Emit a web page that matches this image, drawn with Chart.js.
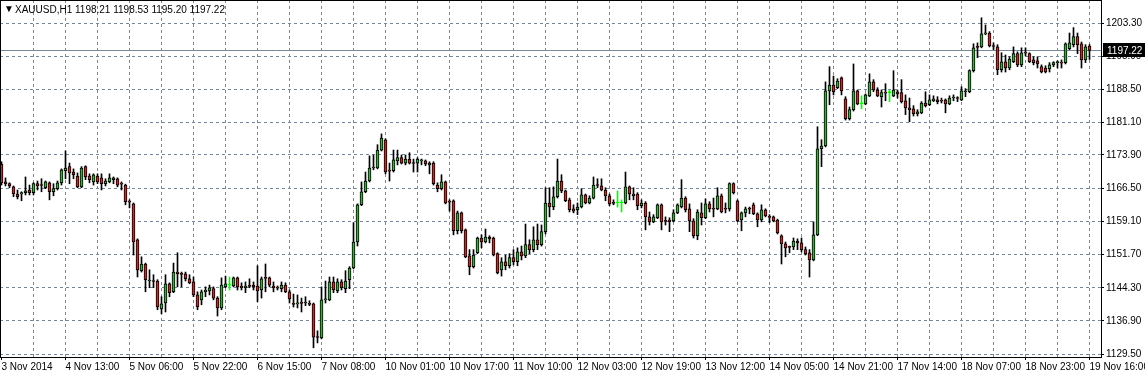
<!DOCTYPE html>
<html>
<head>
<meta charset="utf-8">
<script src="https://cdn.jsdelivr.net/npm/chart.js@4.4.1/dist/chart.umd.min.js"></script>
<style>
body{margin:0;background:#fff}
canvas{display:block}
</style>
</head>
<body>
<canvas id="chart" width="1145" height="377"></canvas>
<script>
// XAUUSD H1, one entry per bar (oldest first)
const symbol = "XAUUSD,H1"

const opens = [
1171.9,1167.9,1167.5,1166.8,1165.2,1165.2,1165.5,1166.1,1165.5,1167.5,
1167.2,1166.6,1167.7,1165.7,1166.4,1167.7,1170.4,1171.3,1170.1,1169.2,
1166.8,1171.3,1169.2,1167.9,1169.2,1168.8,1167.5,1167.9,1168.4,1168.6,
1167.5,1167.2,1163.5,1163.0,1155.0,1148.1,1149.6,1145.8,1145.8,1145.8,
1139.6,1140.9,1145.2,1143.4,1147.8,1147.4,1147.4,1146.3,1145.6,1142.7,
1141.6,1143.4,1143.6,1144.1,1142.0,1139.8,1144.5,1144.9,1144.7,1146.5,
1144.7,1144.3,1144.7,1144.9,1144.7,1143.8,1146.5,1146.5,1144.7,1144.3,
1144.1,1144.9,1143.4,1140.7,1140.7,1140.9,1140.9,1140.7,1140.7,1133.3,
1133.1,1141.6,1141.6,1145.6,1143.6,1145.6,1144.1,1146.1,1148.7,1154.5,
1162.8,1165.7,1168.1,1171.0,1171.0,1175.0,1177.3,1170.4,1170.4,1172.6,
1173.3,1172.1,1173.0,1172.1,1172.1,1172.6,1172.6,1171.7,1172.1,1167.2,
1166.4,1167.9,1163.5,1163.7,1157.0,1161.0,1157.2,1151.4,1149.0,1152.1,
1155.4,1154.5,1155.6,1155.4,1151.9,1148.3,1150.1,1149.2,1151.0,1150.1,
1152.3,1151.4,1153.9,1152.8,1155.0,1153.9,1156.8,1163.2,1162.3,1164.6,
1168.1,1165.9,1163.9,1161.9,1161.7,1162.3,1165.0,1163.2,1164.3,1167.2,
1167.0,1166.1,1164.8,1163.2,1163.2,1163.2,1163.2,1166.8,1165.2,1165.2,
1162.6,1163.2,1160.1,1159.0,1159.9,1162.8,1159.2,1159.4,1159.2,1161.0,
1162.3,1164.3,1161.9,1159.2,1155.9,1161.0,1159.9,1163.0,1161.9,1161.9,
1164.8,1161.9,1161.9,1167.5,1163.7,1159.4,1161.0,1161.9,1162.8,1160.8,
1159.4,1161.7,1160.1,1160.1,1159.4,1155.9,1154.1,1153.4,1153.4,1154.7,
1154.3,1152.8,1152.1,1150.5,1156.1,1175.3,1175.9,1188.2,1189.5,1188.9,
1191.1,1186.4,1182.0,1184.0,1188.2,1185.3,1185.3,1187.1,1190.2,1188.4,
1186.9,1187.8,1187.8,1187.1,1188.0,1187.8,1186.0,1184.4,1184.2,1183.1,
1183.3,1185.5,1185.1,1186.0,1186.2,1186.0,1186.2,1185.3,1186.6,1186.6,
1186.2,1188.0,1188.0,1192.7,1198.0,1198.0,1200.9,1201.1,1198.2,1198.0,
1192.9,1194.7,1193.3,1194.7,1196.5,1194.0,1196.7,1196.5,1195.1,1194.9,
1193.6,1193.3,1193.1,1194.0,1194.5,1194.5,1194.5,1197.6,1198.5,1200.3,
1198.7,1195.1,1198.21
]
const highs = [
1172.4,1168.8,1167.7,1167.0,1166.1,1165.7,1169.0,1167.2,1167.7,1168.1,
1168.6,1168.1,1167.9,1167.5,1168.1,1170.8,1174.8,1172.1,1170.8,1169.9,
1171.3,1171.5,1169.7,1169.7,1169.7,1169.7,1168.6,1169.7,1169.0,1168.8,
1167.9,1167.4,1163.9,1163.2,1155.2,1151.2,1149.8,1148.3,1147.2,1146.1,
1142.3,1147.2,1145.4,1149.8,1152.1,1147.8,1147.8,1147.2,1146.7,1143.4,
1143.8,1144.5,1144.9,1144.5,1142.3,1146.5,1146.9,1146.7,1146.7,1146.7,
1145.4,1145.6,1146.3,1145.6,1149.2,1146.7,1149.6,1146.7,1145.6,1144.7,
1145.6,1145.4,1143.8,1142.9,1142.7,1142.0,1142.3,1141.4,1140.9,1134.7,
1144.5,1145.8,1146.7,1146.7,1146.3,1146.1,1148.1,1149.0,1158.8,1163.0,
1167.9,1170.1,1173.7,1173.9,1176.2,1178.6,1177.5,1172.1,1175.0,1175.0,
1173.9,1173.9,1174.4,1173.0,1173.3,1173.0,1172.8,1172.4,1172.4,1167.7,
1169.5,1168.1,1163.9,1163.9,1161.4,1161.2,1157.4,1152.8,1152.8,1155.6,
1156.1,1157.4,1155.9,1155.6,1152.1,1151.0,1151.6,1151.9,1152.8,1153.2,
1153.6,1158.5,1155.0,1157.9,1158.5,1158.3,1166.6,1166.6,1166.8,1173.0,
1169.5,1166.1,1164.3,1162.8,1163.2,1166.4,1165.2,1164.8,1169.0,1168.6,
1168.6,1166.6,1165.2,1163.9,1165.9,1163.9,1170.1,1167.0,1166.6,1165.5,
1163.9,1163.5,1161.2,1160.6,1163.0,1163.0,1160.1,1159.9,1161.7,1163.0,
1168.4,1164.6,1163.0,1159.7,1161.7,1163.2,1164.1,1163.5,1164.3,1166.6,
1165.2,1163.2,1167.7,1167.7,1163.9,1161.2,1162.3,1162.3,1163.2,1161.0,
1162.8,1161.9,1160.6,1160.3,1159.6,1156.1,1154.5,1153.6,1155.4,1155.2,
1155.4,1153.4,1152.8,1159.0,1180.2,1177.3,1190.2,1193.6,1191.5,1190.9,
1191.3,1186.9,1184.6,1194.2,1188.4,1187.1,1187.5,1192.0,1190.7,1188.9,
1188.4,1189.8,1188.4,1192.7,1188.4,1190.7,1187.3,1186.6,1184.9,1184.0,
1185.8,1188.0,1187.3,1187.1,1186.9,1186.6,1186.4,1187.1,1187.3,1186.9,
1189.1,1188.7,1192.9,1198.7,1198.9,1204.5,1202.9,1201.4,1198.9,1198.5,
1196.7,1196.2,1195.8,1198.0,1196.9,1197.8,1197.8,1196.7,1195.8,1195.8,
1194.0,1193.8,1194.5,1194.7,1194.9,1195.1,1198.9,1201.1,1202.3,1201.1,
1199.1,1198.5,1198.53
]
const lows = [
1167.2,1167.0,1166.6,1164.6,1164.1,1163.7,1165.0,1165.0,1165.0,1166.1,
1165.7,1166.4,1163.9,1164.8,1166.1,1167.2,1168.6,1167.5,1168.6,1166.6,
1166.6,1168.4,1167.7,1167.2,1167.5,1166.1,1167.0,1167.7,1167.5,1166.8,
1166.1,1162.8,1162.1,1151.6,1146.7,1147.8,1143.4,1144.3,1144.3,1139.4,
1138.5,1138.9,1142.3,1143.2,1144.5,1144.5,1145.8,1145.2,1142.3,1139.4,
1140.5,1142.3,1142.7,1141.6,1138.0,1139.4,1144.3,1143.8,1144.5,1143.8,
1143.8,1143.2,1144.3,1143.8,1141.2,1142.0,1143.4,1144.5,1143.4,1143.8,
1143.4,1143.2,1140.9,1140.0,1139.8,1138.9,1140.3,1140.3,1130.9,1132.0,
1132.9,1140.9,1141.4,1143.2,1143.2,1143.8,1143.2,1144.1,1148.5,1153.6,
1162.6,1165.5,1167.9,1170.6,1170.8,1174.8,1169.7,1168.1,1170.1,1171.7,
1171.9,1171.7,1171.9,1170.1,1170.1,1171.7,1171.5,1169.7,1167.2,1165.7,
1166.1,1163.0,1161.4,1156.1,1156.3,1156.5,1151.0,1147.2,1148.7,1151.9,
1153.2,1154.3,1154.3,1151.4,1147.4,1146.9,1148.3,1148.7,1149.4,1149.2,
1150.5,1151.0,1151.9,1152.3,1152.8,1153.6,1156.3,1160.1,1161.7,1164.3,
1165.5,1163.5,1161.2,1161.0,1160.6,1162.1,1163.0,1163.0,1164.1,1166.6,
1165.9,1163.7,1162.6,1162.8,1162.3,1161.2,1163.0,1163.9,1163.9,1161.7,
1162.1,1157.2,1158.3,1158.8,1159.7,1157.2,1158.3,1156.8,1159.0,1160.8,
1162.1,1161.2,1156.8,1155.4,1155.0,1158.3,1159.7,1161.2,1160.1,1161.7,
1161.0,1161.0,1161.4,1165.2,1159.0,1157.0,1160.1,1160.8,1160.6,1157.9,
1159.0,1160.1,1158.8,1159.0,1156.3,1149.6,1151.2,1152.1,1152.8,1152.8,
1152.3,1151.6,1146.7,1150.3,1155.9,1171.3,1175.7,1185.1,1187.3,1188.7,
1187.3,1181.7,1181.7,1183.7,1185.1,1184.2,1185.1,1186.9,1188.0,1186.9,
1184.6,1186.0,1185.8,1186.9,1186.6,1185.5,1182.9,1181.3,1182.6,1182.6,
1183.1,1184.6,1184.9,1185.8,1185.3,1185.5,1183.3,1185.1,1186.0,1185.8,
1186.0,1186.9,1187.8,1192.4,1195.6,1197.8,1200.7,1198.0,1197.4,1191.8,
1192.4,1192.4,1192.9,1194.5,1193.6,1193.6,1196.0,1194.5,1194.0,1193.3,
1192.2,1192.2,1192.4,1193.6,1193.3,1193.3,1194.2,1197.4,1198.0,1196.5,
1193.3,1194.5,1195.20
]
const closes = [
1167.7,1167.5,1167.0,1165.2,1164.6,1165.5,1165.9,1165.5,1167.5,1167.0,
1167.1,1167.9,1165.7,1166.4,1167.7,1170.6,1171.0,1169.9,1169.5,1166.8,
1171.0,1169.0,1168.4,1169.5,1167.9,1167.5,1168.1,1168.8,1168.8,1167.2,
1167.4,1163.5,1163.4,1154.5,1148.3,1149.6,1146.1,1145.9,1145.7,1140.0,
1140.7,1145.2,1143.2,1147.8,1147.4,1147.3,1146.3,1145.4,1142.7,1140.0,
1143.4,1143.8,1144.3,1142.0,1139.8,1144.9,1145.2,1144.9,1146.5,1144.5,
1144.3,1144.7,1144.6,1144.5,1143.6,1146.3,1146.4,1144.9,1144.3,1144.2,
1144.9,1143.4,1141.8,1140.6,1140.8,1140.8,1141.0,1140.6,1133.3,1133.2,
1141.6,1141.7,1145.6,1143.8,1145.6,1144.3,1145.8,1148.7,1154.5,1162.8,
1165.7,1168.1,1171.0,1171.1,1175.0,1177.7,1170.1,1170.3,1172.8,1173.3,
1172.1,1173.0,1172.1,1172.0,1173.0,1172.7,1171.9,1172.1,1167.5,1166.4,
1167.9,1163.2,1163.4,1157.0,1161.0,1157.0,1151.2,1149.0,1151.6,1155.4,
1154.5,1155.6,1155.2,1151.6,1147.6,1150.1,1149.2,1151.0,1150.1,1152.3,
1151.4,1153.9,1152.8,1155.0,1153.9,1156.8,1163.2,1162.3,1164.6,1168.1,
1165.9,1163.7,1161.7,1161.4,1162.3,1165.0,1163.2,1164.3,1167.2,1167.1,
1166.1,1164.8,1163.0,1163.1,1163.2,1163.2,1166.8,1165.2,1164.8,1162.6,
1163.2,1160.1,1159.0,1160.1,1162.8,1159.0,1159.1,1159.0,1161.0,1162.8,
1164.3,1161.7,1159.2,1155.9,1161.2,1159.9,1163.0,1161.9,1161.8,1164.8,
1161.2,1161.8,1167.5,1165.5,1159.2,1161.0,1161.9,1161.8,1160.8,1159.4,
1161.7,1160.3,1160.0,1159.2,1156.5,1154.1,1153.2,1153.3,1154.7,1154.3,
1152.8,1151.9,1150.5,1156.1,1175.3,1175.9,1188.2,1189.5,1188.0,1190.4,
1188.2,1182.0,1184.0,1188.2,1185.3,1185.3,1187.3,1190.2,1188.4,1187.1,
1187.8,1187.7,1187.8,1188.4,1187.5,1185.8,1184.4,1184.0,1183.1,1183.5,
1185.5,1184.9,1186.2,1186.4,1185.8,1185.9,1185.3,1186.6,1186.7,1186.5,
1188.2,1188.1,1192.7,1197.8,1197.9,1200.9,1201.0,1198.2,1198.1,1192.9,
1194.7,1193.3,1195.3,1196.5,1194.0,1196.7,1196.6,1194.7,1194.5,1194.2,
1192.4,1192.4,1194.0,1194.5,1194.6,1194.4,1198.7,1198.9,1200.3,1198.5,
1195.1,1198.0,1197.22
]

// time labels, one every 16 bars
const xTickLabels = ["3 Nov 2014","4 Nov 13:00","5 Nov 06:00","5 Nov 22:00","6 Nov 15:00","7 Nov 08:00",
  "10 Nov 01:00","10 Nov 17:00","11 Nov 10:00","12 Nov 03:00","12 Nov 19:00","13 Nov 12:00",
  "14 Nov 05:00","14 Nov 21:00","17 Nov 14:00","18 Nov 07:00","18 Nov 23:00","19 Nov 16:00"]
const yTickValues = [1129.50,1136.90,1144.30,1151.70,1159.10,1166.50,1173.90,1181.10,1188.50,1195.90,1203.30]

const barsPerLabel = 16
const barsPerGrid = 8

const bullColor = "#2eb82e"
const bearColor = "#e02020"
const flatColor = "#00ff00"
const gridColor = "#778899"
const fontFamily = "'Liberation Sans', Arial, sans-serif"

let n = closes.length
let bodies = opens.map((o, i) => ({x: i, y: [o, closes[i]]}))
let wicks = lows.map((l, i) => ({x: i, y: [l, highs[i]]}))
let bodyFill = opens.map((o, i) => closes[i] > o ? bullColor : (closes[i] < o ? bearColor : flatColor))
let lineColor = opens.map((o, i) => closes[i] == o ? flatColor : "#000")

let xGridValues = []
for (let v = 0; v < n; v += barsPerGrid) xGridValues.push(v)

const frame = {
    id: "frame",
    beforeDatasetsDraw(chart) {
        // current price line
        let ctx = chart.ctx, a = chart.chartArea
        let y = Math.round(chart.scales.y.getPixelForValue(closes[n - 1])) + 0.5
        ctx.save()
        ctx.strokeStyle = gridColor
        ctx.lineWidth = 1
        ctx.beginPath()
        ctx.moveTo(a.left, y)
        ctx.lineTo(a.right, y)
        ctx.stroke()
        ctx.restore()
    },
    afterDraw(chart) {
        let ctx = chart.ctx, a = chart.chartArea
        ctx.save()
        ctx.strokeStyle = "#000"
        ctx.lineWidth = 1
        ctx.strokeRect(a.left + 0.5, a.top + 0.5, a.right - a.left, a.bottom - a.top)

        // price tag on the axis
        let y = Math.round(chart.scales.y.getPixelForValue(closes[n - 1]))
        ctx.fillStyle = "#000"
        ctx.fillRect(a.right + 2, y - 7, chart.width - a.right - 2, 14)
        ctx.fillStyle = "#fff"
        ctx.font = "10px " + fontFamily
        ctx.textBaseline = "middle"
        ctx.fillText(closes[n - 1].toFixed(2), a.right + 6, y + 1)

        // title line
        let last = n - 1
        ctx.fillStyle = "#000"
        ctx.font = "10px " + fontFamily
        ctx.fillText("\u25BC", 4, 9)
        ctx.fillText(symbol + " " + [opens[last], highs[last], lows[last], closes[last]].map(v => v.toFixed(2)).join(" "), 15, 10)
        ctx.restore()
    }
}

new Chart(document.getElementById("chart"), {
    type: "bar",
    data: {
        datasets: [
            {
                data: bodies,
                backgroundColor: bodyFill,
                borderColor: lineColor,
                borderWidth: 1,
                borderSkipped: false,
                barThickness: 3,
                minBarLength: 1,
                grouped: false,
                order: 1
            },
            {
                data: wicks,
                backgroundColor: lineColor,
                borderWidth: 0,
                barThickness: 1,
                grouped: false,
                order: 2
            }
        ]
    },
    options: {
        responsive: false,
        animation: false,
        events: [],
        layout: {padding: 0, autoPadding: false},
        plugins: {legend: {display: false}, tooltip: {enabled: false}},
        scales: {
            x: {
                type: "linear",
                offset: false,
                min: -0.375,
                max: 274.875,
                afterBuildTicks: s => { s.ticks = xGridValues.map(v => ({value: v})) },
                afterFit: s => { s.height = 20; s.paddingLeft = 0; s.paddingRight = 0 },
                grid: {
                    offset: false,
                    color: c => c.tick && c.tick.value > 0 ? gridColor : "transparent",
                    tickColor: c => c.tick && c.tick.value % barsPerLabel == 0 ? "#000" : "transparent",
                    tickLength: 3
                },
                border: {display: false, dash: [3, 3]},
                ticks: {
                    autoSkip: false,
                    maxRotation: 0,
                    align: "start",
                    padding: 1,
                    color: "#000",
                    font: {family: fontFamily, size: 10},
                    callback: v => v % barsPerLabel == 0 ? xTickLabels[v / barsPerLabel] : ""
                }
            },
            y: {
                position: "right",
                min: 1128.86,
                max: 1208.46,
                afterBuildTicks: s => { s.ticks = yTickValues.map(v => ({value: v})) },
                afterFit: s => { s.width = 44; s.paddingTop = 0; s.paddingBottom = 0 },
                grid: {color: gridColor, tickColor: "#000", tickLength: 3},
                border: {display: false, dash: [3, 3]},
                ticks: {
                    padding: 2,
                    color: "#000",
                    font: {family: fontFamily, size: 10},
                    callback: v => v.toFixed(2)
                }
            }
        }
    },
    plugins: [frame]
})
</script>
</body>
</html>
